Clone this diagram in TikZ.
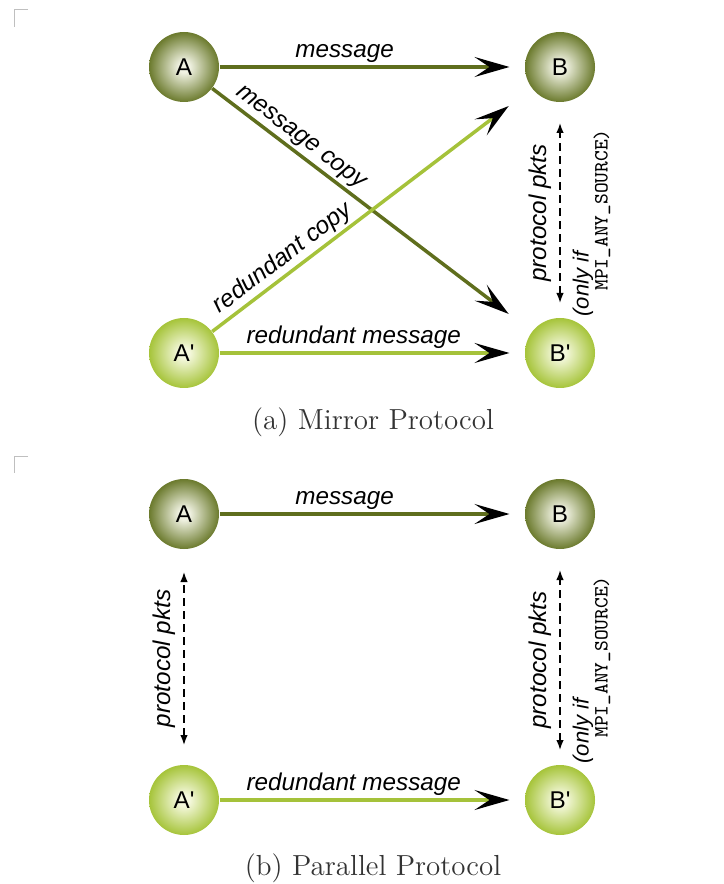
\documentclass[tikz,border=0pt]{standalone}
\usepackage{fontspec}
\newfontfamily\labelfont{Liberation Sans}
\usetikzlibrary{arrows.meta}
\definecolor{oliveedge}{HTML}{6B7A2D}
\definecolor{olivecore}{HTML}{F0F2E2}
\definecolor{oliveline}{HTML}{5F6E1D}
\definecolor{limeedge}{HTML}{A6C43A}
\definecolor{limecore}{HTML}{F4F8DC}
\definecolor{limeline}{HTML}{A5C23A}
\pgfdeclareradialshading{oliveball}{\pgfpoint{0bp}{0bp}}{color(0bp)=(olivecore); color(4bp)=(olivecore); color(25bp)=(oliveedge); color(50bp)=(oliveedge)}
\pgfdeclareradialshading{limeball}{\pgfpoint{0bp}{0bp}}{color(0bp)=(limecore); color(4bp)=(limecore); color(25bp)=(limeedge); color(50bp)=(limeedge)}
\tikzset{
  peer/.style={circle, minimum size=28pt, inner sep=0pt, font=\labelfont\fontsize{9.7}{11}\selectfont},
  olivepeer/.style={peer, shading=oliveball},
  limepeer/.style={peer, shading=limeball},
  msg/.style={line width=1.4pt, shorten >=6pt, -{Stealth[length=14pt,width=8pt,inset=6pt,color=black]}},
  msgtext/.style={inner sep=1pt, font=\labelfont\itshape\fontsize{9.7}{11}\selectfont},
  onlytext/.style={font=\labelfont\itshape\fontsize{8.8}{10}\selectfont},
  codetext/.style={font=\ttfamily\fontsize{8.1}{9}\selectfont},
  pkts/.style={line width=.6pt, dash pattern=on 3.2pt off 2pt, {Latex[length=4pt,width=3pt]}-{Latex[length=4pt,width=3pt]}},
  cropmark/.style={gray!50, line width=.4pt},
  subcap/.style={black!80, font=\fontsize{11.6}{14}\selectfont}
}
\begin{document}
\begin{tikzpicture}[x=0.4pt,y=-0.4pt]
\useasboundingbox (0,0) rectangle (723,884);
\draw[cropmark] (28,10) -- (14,10) -- (14,27);
\draw[cropmark] (28,456) -- (14,456) -- (14,473);

% (a) mirror protocol
\node[olivepeer] (mA) at (184,67) {A};
\node[olivepeer] (mB) at (560,67) {B};
\node[limepeer] (mAr) at (184,353) {A'};
\node[limepeer] (mBr) at (560,353) {B'};
\draw[msg, oliveline] (mA) -- node[msgtext, black, above, pos=.41]{message} (mB);
\draw[msg, oliveline, shorten >=11.6pt] (mA) -- node[msgtext, black, above, sloped, pos=.25]{message copy} (mBr);
\draw[msg, limeline, shorten >=11.6pt] (mAr) -- node[msgtext, black, above, sloped, pos=.25]{redundant copy} (mB);
\draw[msg, limeline] (mAr) -- node[msgtext, black, above, pos=.44]{redundant message} (mBr);
\coordinate (mLo) at (560,303);
\coordinate (mHi) at (560,123);
\draw[pkts] (mLo) -- node[msgtext, above=2pt, sloped]{protocol pkts} (mHi);
\node[onlytext, rotate=90] (mOnly) at (583,284) {(only if};
\node[codetext, rotate=90] (mAny) at (602,210) {MPI\_ANY\_SOURCE)};
\node[subcap] (mCap) at (373,422) {(a) Mirror Protocol};

% (b) parallel protocol
\node[olivepeer] (pA) at (184,514) {A};
\node[olivepeer] (pB) at (560,514) {B};
\node[limepeer] (pAr) at (184,800) {A'};
\node[limepeer] (pBr) at (560,800) {B'};
\draw[msg, oliveline] (pA) -- node[msgtext, black, above, pos=.41]{message} (pB);
\draw[msg, limeline] (pAr) -- node[msgtext, black, above, pos=.44]{redundant message} (pBr);
\coordinate (pLLo) at (184,745);
\coordinate (pLHi) at (184,572);
\draw[pkts] (pLLo) -- node[msgtext, above=2pt, sloped]{protocol pkts} (pLHi);
\coordinate (pRLo) at (560,750);
\coordinate (pRHi) at (560,570);
\draw[pkts] (pRLo) -- node[msgtext, above=2pt, sloped]{protocol pkts} (pRHi);
\node[onlytext, rotate=90] (pOnly) at (583,731) {(only if};
\node[codetext, rotate=90] (pAny) at (602,657) {MPI\_ANY\_SOURCE)};
\node[subcap] (pCap) at (373,868) {(b) Parallel Protocol};
\end{tikzpicture}
\end{document}
